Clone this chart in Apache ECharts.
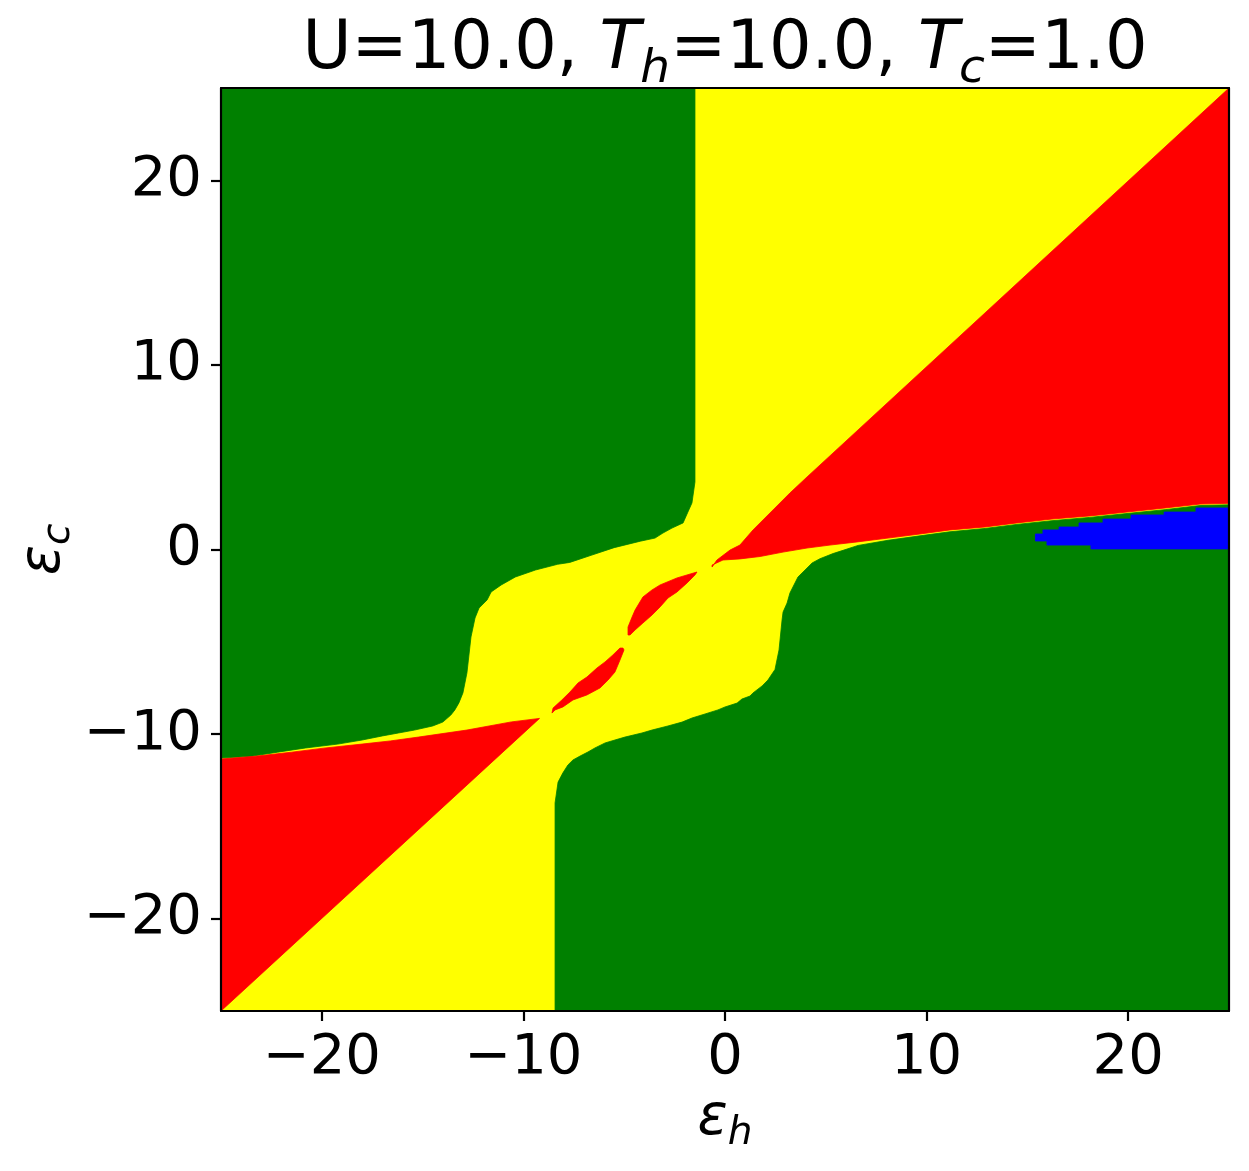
<!DOCTYPE html>
<html><head><meta charset="utf-8">
<script src="https://cdn.jsdelivr.net/npm/echarts@6/dist/echarts.min.js"></script>
<style>html,body{margin:0;padding:0;background:#fff}#c{width:1249px;height:1171px}</style>
</head><body><div id="c"></div>
<script>
// Tick labels
const xTicks = [-20, -10, 0, 10, 20];
const yTicks = [-20, -10, 0, 10, 20];

// Phase region outlines [eps_h, eps_c]
const yellowBackground = [[-25,-25],[25,-25],[25,25],[-25,25]];
const greenUpperLeft = [[-25,25],[-1.49,25],[-1.49,3.66],[-1.64,2.52],[-1.84,2.03],[-2.08,1.44],[-2.63,1.16],[-3.08,0.89],[-3.47,0.62],[-4.2,0.45],[-5.5,0.1],[-6.6,-0.3],[-7.7,-0.7],[-8.3,-0.8],[-9.4,-1.11],[-10.4,-1.49],[-11.1,-1.92],[-11.6,-2.30],[-11.8,-2.73],[-12.2,-3.17],[-12.4,-3.71],[-12.6,-4.74],[-12.8,-6.68],[-13.0,-7.77],[-13.2,-8.31],[-13.4,-8.69],[-13.6,-8.97],[-14.0,-9.35],[-14.5,-9.56],[-15.4,-9.78],[-16.2,-9.94],[-17.0,-10.1],[-18.0,-10.32],[-19.2,-10.54],[-20.8,-10.75],[-22.2,-10.98],[-23.5,-11.2],[-25,-11.3]];
const greenLowerRight = [[25,-25],[-8.43,-25],[-8.43,-13.73],[-8.28,-12.6],[-8.04,-12.1],[-7.79,-11.67],[-7.54,-11.4],[-7.19,-11.19],[-6.80,-10.97],[-6.45,-10.75],[-5.95,-10.48],[-5.46,-10.32],[-4.96,-10.16],[-4.12,-9.94],[-3.62,-9.78],[-2.83,-9.56],[-2.13,-9.35],[-1.64,-9.13],[-0.99,-8.91],[-0.35,-8.69],[0,-8.53],[0.6,-8.32],[0.84,-8.1],[1.24,-7.94],[1.39,-7.77],[1.84,-7.39],[2.13,-7.07],[2.48,-6.5],[2.68,-5.44],[2.83,-3.82],[2.88,-3.39],[3.08,-2.9],[3.22,-2.36],[3.37,-2.03],[3.62,-1.49],[3.97,-1.11],[4.32,-0.73],[4.71,-0.5],[5.36,-0.22],[5.9,-0.03],[6.6,0.22],[8.09,0.5],[9.67,0.74],[11.16,0.96],[12.9,1.14],[14.48,1.36],[16.22,1.56],[18.1,1.74],[19.94,1.95],[21.83,2.16],[23.56,2.38],[25,2.42]];
const redUpperRight = [[-0.64,-0.95],[-0.4,-0.57],[0.25,-0.03],[0.74,0.24],[1.39,1.06],[2.38,2.14],[3.22,3.06],[4.07,3.93],[25,25],[25,2.5],[23.56,2.46],[21.83,2.25],[19.94,2.03],[18.1,1.82],[16.22,1.65],[14.48,1.44],[12.9,1.22],[11.16,1.06],[9.67,0.84],[8.09,0.62],[6.55,0.41],[5.21,0.24],[4.07,0.08],[2.88,-0.14],[1.74,-0.38],[0.74,-0.51],[-0.1,-0.57],[-0.64,-0.84]];
const redLowerLeft = [[-25,-25],[-25,-11.35],[-23.3,-11.2],[-21.5,-10.98],[-19.9,-10.76],[-18.0,-10.54],[-16.6,-10.37],[-15.2,-10.16],[-12.8,-9.78],[-10.6,-9.34],[-9.2,-9.15]];
const redLensUpper = [[-1.39,-1.22],[-2.38,-1.54],[-3.22,-1.92],[-3.62,-2.19],[-4.07,-2.57],[-4.22,-2.84],[-4.46,-3.28],[-4.61,-3.66],[-4.81,-4.2],[-4.81,-4.63],[-4.71,-4.63],[-4.46,-4.36],[-4.07,-3.98],[-3.62,-3.55],[-3.22,-3.11],[-2.83,-2.63],[-2.38,-2.3],[-1.88,-1.81],[-1.49,-1.38]];
const redLensLower = [[-5.06,-5.34],[-5.21,-5.34],[-5.56,-5.71],[-5.95,-6.09],[-6.35,-6.42],[-6.85,-6.91],[-7.29,-7.23],[-7.69,-7.72],[-8.09,-8.15],[-8.53,-8.59],[-8.58,-8.86],[-8.43,-8.69],[-8.04,-8.53],[-7.54,-8.15],[-6.85,-7.88],[-6.2,-7.5],[-5.8,-7.07],[-5.46,-6.64],[-5.21,-5.99],[-5.01,-5.44]];
const blueRegion = [[15.4,0.46],[15.4,0.84],[15.77,0.84],[15.77,1.06],[16.57,1.06],[16.57,1.22],[17.56,1.22],[17.56,1.44],[18.75,1.44],[18.75,1.65],[20.14,1.65],[20.14,1.87],[21.78,1.87],[21.78,2.03],[23.36,2.03],[23.36,2.25],[25,2.25],[25,0.03],[18.15,0.03],[18.15,0.24],[15.97,0.24],[15.97,0.46]];

const regions = [
  {name: 'yellow', pts: yellowBackground, color: '#ffff00'},
  {name: 'greenUL', pts: greenUpperLeft, color: '#008000'},
  {name: 'greenLR', pts: greenLowerRight, color: '#008000'},
  {name: 'redUR', pts: redUpperRight, color: '#ff0000'},
  {name: 'redLL', pts: redLowerLeft, color: '#ff0000'},
  {name: 'redLensU', pts: redLensUpper, color: '#ff0000'},
  {name: 'redLensL', pts: redLensLower, color: '#ff0000'},
  {name: 'blue', pts: blueRegion, color: '#0000ff'}
];

const FONT = 'DejaVu Sans';
const fmt = v => (v < 0 ? '\u2212' + Math.abs(v) : String(v));

const series = regions.map(r => ({
  type: 'custom',
  name: r.name,
  coordinateSystem: 'cartesian2d',
  xAxisIndex: 0, yAxisIndex: 0,
  silent: true,
  clip: true,
  data: [r.pts[0]],
  renderItem: function (params, api) {
    return {
      type: 'polygon',
      shape: {points: r.pts.map(p => api.coord(p))},
      style: {fill: r.color, stroke: r.color, lineWidth: 0.8}
    };
  }
}));

const axisLineStyle = {show: true, onZero: false, lineStyle: {color: '#000', width: 2.2}};
const nameRich = {
  e: {fontSize: 56, fontFamily: FONT, fontStyle: 'italic', fontWeight: 'normal', lineHeight: 70, color: '#000'},
  s: {fontSize: 39, fontFamily: FONT, fontStyle: 'italic', fontWeight: 'normal', lineHeight: 40, padding: [30, 0, 0, 0], color: '#000'}
};

const option = {
  animation: false,
  backgroundColor: '#fff',
  title: {
    text: '{n|U=10.0, }{i|T}{s|h}{n|=10.0, }{i|T}{s|c}{n|=1.0}',
    left: 725, top: 11, padding: 0, textAlign: 'center',
    textStyle: {
      fontWeight: 'normal',
      rich: {
        n: {fontSize: 67, fontFamily: FONT, fontWeight: 'normal', lineHeight: 80, color: '#000'},
        i: {fontSize: 67, fontFamily: FONT, fontStyle: 'italic', fontWeight: 'normal', lineHeight: 80, color: '#000'},
        s: {fontSize: 47, fontFamily: FONT, fontStyle: 'italic', fontWeight: 'normal', lineHeight: 40, padding: [38, 0, 0, 0], color: '#000'}
      }
    }
  },
  grid: {left: 221, right: 20, top: 88, bottom: 160, containLabel: false},
  xAxis: [{
    type: 'value', min: -25, max: 25, position: 'bottom', z: 10,
    axisLine: axisLineStyle,
    axisTick: {show: true, inside: false, length: 10, customValues: xTicks, lineStyle: {color: '#000', width: 2.2}},
    axisLabel: {show: true, customValues: xTicks, formatter: fmt, fontSize: 56, fontFamily: FONT, color: '#000', margin: 19},
    splitLine: {show: false},
    name: '{e|ε}{s|h}', nameLocation: 'middle', nameGap: 73, nameMoveOverlap: false,
    nameTextStyle: {rich: nameRich}
  }, {
    type: 'value', min: -25, max: 25, position: 'top', z: 10,
    axisLine: axisLineStyle, axisTick: {show: false}, axisLabel: {show: false}, splitLine: {show: false}
  }],
  yAxis: [{
    type: 'value', min: -25, max: 25, position: 'left', z: 10,
    axisLine: axisLineStyle,
    axisTick: {show: true, inside: false, length: 10, customValues: yTicks, lineStyle: {color: '#000', width: 2.2}},
    axisLabel: {show: true, customValues: yTicks, formatter: fmt, fontSize: 56, fontFamily: FONT, color: '#000', margin: 19},
    splitLine: {show: false},
    name: '{e|ε}{s|c}', nameLocation: 'middle', nameRotate: 90, nameGap: 142, nameMoveOverlap: false,
    nameTextStyle: {rich: nameRich}
  }, {
    type: 'value', min: -25, max: 25, position: 'right', z: 10,
    axisLine: axisLineStyle, axisTick: {show: false}, axisLabel: {show: false}, splitLine: {show: false}
  }],
  series: series
};

const chart = echarts.init(document.getElementById('c'), null, {renderer: 'canvas'});
chart.setOption(option);
</script>
</body></html>
